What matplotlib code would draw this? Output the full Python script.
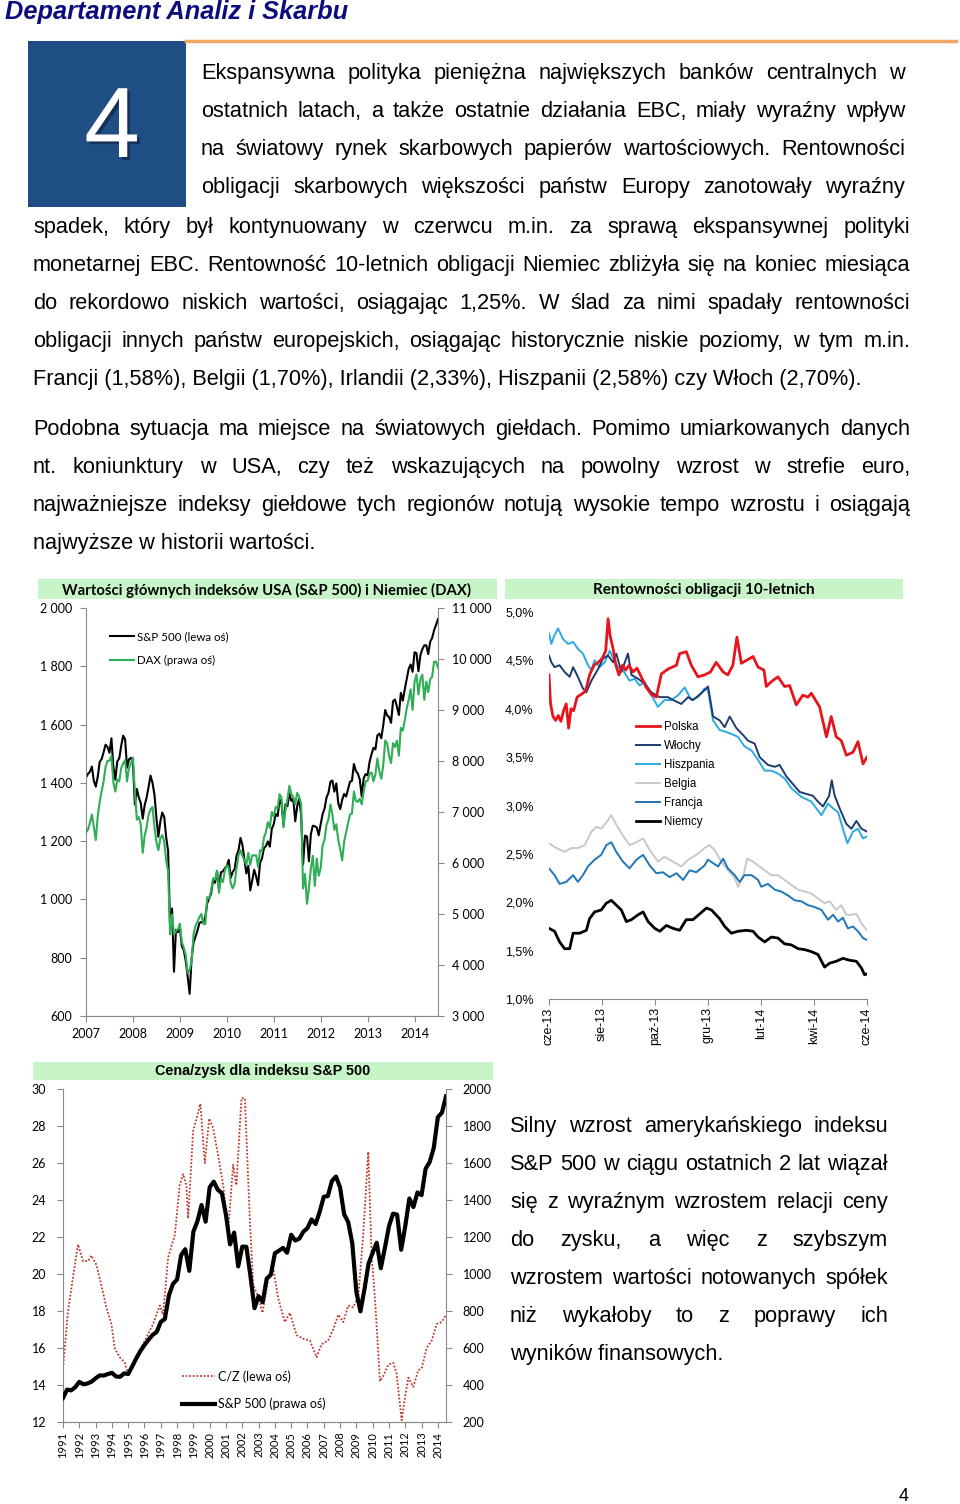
import matplotlib
matplotlib.use('Agg')
import matplotlib.pyplot as plt
import matplotlib.patheffects as pe
import numpy as np
from matplotlib.patches import Rectangle

# ---------------- data ----------------
# S&P 500 and DAX, half-monthly from Jan 2007 to Jun 2014
sp_values = [1418,
    1431, 1438, 1456, 1407, 1387, 1421, 1472, 1482, 1505, 1531, 1523, 1503, 1553, 1455, 1411, 1474, 1484, 1527, 1562, 1549, 1452, 1481, 1486, 1468,
    1325, 1379, 1350, 1331, 1277, 1323, 1350, 1386, 1425, 1400, 1360, 1280, 1215, 1267, 1298, 1283, 1213, 1166, 907, 969, 752, 896, 888, 903,
    840, 826, 789, 735, 676, 798, 852, 873, 893, 919, 923, 919, 940, 987, 1004, 1021, 1068, 1057, 1097, 1036, 1093, 1096, 1107, 1115,
    1136, 1074, 1094, 1104, 1150, 1169, 1211, 1187, 1136, 1089, 1115, 1031, 1065, 1102, 1079, 1049, 1125, 1141, 1176, 1183, 1199, 1181, 1242, 1258,
    1293, 1286, 1343, 1327, 1256, 1326, 1320, 1364, 1338, 1345, 1268, 1321, 1344, 1292, 1120, 1219, 1216, 1131, 1225, 1253, 1251, 1247, 1220, 1258,
    1293, 1312, 1350, 1366, 1404, 1408, 1370, 1398, 1330, 1310, 1342, 1362, 1353, 1379, 1404, 1407, 1465, 1441, 1432, 1412, 1353, 1416, 1430, 1426,
    1472, 1498, 1520, 1515, 1563, 1569, 1553, 1598, 1650, 1631, 1626, 1606, 1680, 1686, 1661, 1633, 1709, 1682, 1721, 1757, 1791, 1806, 1781, 1848,
    1845, 1783, 1838, 1859, 1872, 1872, 1842, 1884, 1897, 1924, 1942, 1962]
dax_values = [6600,
    6650, 6789, 6950, 6716, 6450, 6917, 7200, 7409, 7600, 7883, 8000, 8007, 8100, 7584, 7400, 7638, 7600, 7862, 7950, 8019, 7600, 7871, 7950, 8067,
    7400, 6851, 6900, 6748, 6200, 6535, 6700, 6949, 7050, 7097, 6700, 6418, 6250, 6479, 6550, 6422, 6050, 5831, 4600, 4988, 4600, 4669, 4700, 4810,
    4450, 4338, 4200, 3844, 3900, 4085, 4600, 4770, 4850, 4941, 5000, 4809, 4800, 5332, 5300, 5465, 5700, 5675, 5850, 5415, 5700, 5625, 5850, 5957,
    5900, 5608, 5500, 5598, 5900, 6154, 6250, 6136, 6050, 5965, 6200, 5966, 6150, 6148, 6150, 5925, 6250, 6229, 6500, 6601, 6800, 6688, 7000, 6914,
    7100, 7077, 7350, 7273, 6700, 7041, 7250, 7514, 7350, 7294, 7150, 7376, 7300, 7159, 5500, 5785, 5200, 5502, 5900, 6141, 5550, 6089, 5750, 5898,
    6350, 6458, 6750, 6856, 7150, 6947, 6650, 6761, 6450, 6264, 6050, 6416, 6600, 6772, 6950, 6971, 7400, 7216, 7200, 7260, 7150, 7406, 7600, 7612,
    7750, 7776, 7600, 7742, 8050, 7795, 7650, 7914, 8400, 8349, 8100, 7959, 8350, 8276, 8400, 8104, 8650, 8594, 8800, 9033, 9200, 9406, 9000, 9552,
    9700, 9306, 9600, 9692, 9200, 9556, 9350, 9603, 9650, 9943, 9950, 9833]
idx_years = ['2007', '2008', '2009', '2010', '2011', '2012', '2013', '2014']
sp_ticks = ['600', '800', '1 000', '1 200', '1 400', '1 600', '1 800', '2 000']
dax_ticks = ['3 000', '4 000', '5 000', '6 000', '7 000', '8 000', '9 000', '10 000', '11 000']

# 10Y bond yields, x = months since June 2013
pl_m = [0.00, 0.06, 0.15, 0.25, 0.35, 0.45, 0.55, 0.65, 0.74, 0.83, 0.93, 1.06, 1.22, 1.38, 1.53, 1.70, 1.86, 2.01, 2.14, 2.23,
        2.31, 2.42, 2.52, 2.64, 2.77, 2.89, 3.02, 3.17, 3.32, 3.48, 3.67, 3.86, 4.05, 4.24, 4.49, 4.81, 4.93, 5.18, 5.37, 5.62,
        5.87, 6.09, 6.31, 6.57, 6.75, 6.94, 7.09, 7.26, 7.45, 7.70, 7.89, 8.11, 8.20, 8.39, 8.64, 8.89, 9.08, 9.33, 9.58, 9.77,
        9.90, 10.21, 10.47, 10.65, 10.84, 11.03, 11.22, 11.47, 11.66, 11.85, 12.00]
pl_v = [4.35, 4.05, 3.92, 3.88, 3.93, 3.87, 3.98, 4.05, 3.80, 4.00, 3.98, 4.12, 4.15, 4.18, 4.35, 4.45, 4.48, 4.52, 4.60, 4.93,
        4.75, 4.62, 4.45, 4.35, 4.45, 4.40, 4.45, 4.38, 4.42, 4.33, 4.22, 4.15, 4.12, 4.36, 4.41, 4.45, 4.57, 4.59, 4.45, 4.33,
        4.35, 4.38, 4.48, 4.38, 4.35, 4.45, 4.74, 4.47, 4.50, 4.54, 4.43, 4.40, 4.23, 4.28, 4.33, 4.23, 4.24, 4.04, 4.14, 4.12,
        4.16, 4.02, 3.71, 3.92, 3.71, 3.67, 3.52, 3.55, 3.66, 3.43, 3.50]
it_m = [0.00, 0.09, 0.21, 0.40, 0.59, 0.78, 0.91, 1.09, 1.28, 1.41, 1.60, 1.85, 2.04, 2.23, 2.42, 2.54, 2.73, 2.98, 3.11, 3.36,
        3.61, 3.86, 4.18, 4.49, 4.68, 4.99, 5.25, 5.43, 5.75, 6.00, 6.09, 6.19, 6.44, 6.63, 6.82, 7.07, 7.32, 7.51, 7.76, 7.95,
        8.26, 8.52, 8.70, 8.96, 9.21, 9.46, 9.71, 9.96, 10.15, 10.34, 10.57, 10.67, 10.78, 10.97, 11.22, 11.41, 11.60, 11.79, 12.00]
it_v = [4.55, 4.48, 4.43, 4.45, 4.38, 4.33, 4.43, 4.33, 4.21, 4.17, 4.29, 4.41, 4.52, 4.55, 4.48, 4.57, 4.38, 4.57, 4.35, 4.31,
        4.26, 4.17, 4.12, 4.12, 4.09, 4.05, 4.12, 4.09, 4.16, 4.23, 4.09, 3.92, 3.88, 3.81, 3.92, 3.80, 3.73, 3.67, 3.64, 3.50,
        3.42, 3.40, 3.42, 3.30, 3.22, 3.14, 3.12, 3.10, 3.04, 2.99, 3.10, 3.26, 3.10, 2.97, 2.81, 2.76, 2.84, 2.76, 2.73]
es_m = [0.00, 0.09, 0.19, 0.34, 0.53, 0.72, 0.91, 1.09, 1.28, 1.47, 1.60, 1.72, 1.91, 2.10, 2.29, 2.42, 2.60, 2.79, 3.04, 3.23,
        3.42, 3.61, 3.86, 4.11, 4.36, 4.62, 4.87, 5.12, 5.37, 5.62, 5.87, 6.00, 6.19, 6.44, 6.69, 6.88, 7.13, 7.38, 7.64, 7.89,
        8.14, 8.39, 8.64, 8.89, 9.14, 9.52, 9.90, 10.28, 10.53, 10.72, 10.91, 11.09, 11.26, 11.47, 11.66, 11.85, 12.00]
es_v = [4.78, 4.67, 4.75, 4.83, 4.72, 4.67, 4.69, 4.62, 4.57, 4.45, 4.40, 4.50, 4.43, 4.48, 4.60, 4.52, 4.43, 4.40, 4.29, 4.31,
        4.24, 4.28, 4.14, 4.02, 4.09, 4.09, 4.14, 4.22, 4.09, 4.12, 4.21, 4.19, 3.88, 3.78, 3.76, 3.74, 3.71, 3.61, 3.57, 3.47,
        3.36, 3.36, 3.33, 3.28, 3.18, 3.09, 3.04, 2.90, 3.02, 2.97, 2.93, 2.76, 2.61, 2.73, 2.76, 2.66, 2.68]
be_m = [0.00, 0.21, 0.59, 0.84, 1.09, 1.35, 1.60, 1.79, 1.97, 2.23, 2.35, 2.54, 2.79, 3.04, 3.30, 3.55, 3.80, 4.11, 4.36, 4.68,
        4.99, 5.25, 5.56, 5.87, 6.06, 6.25, 6.50, 6.75, 7.01, 7.13, 7.32, 7.48, 7.70, 7.89, 8.14, 8.39, 8.64, 8.89, 9.14, 9.40,
        9.65, 9.90, 10.15, 10.40, 10.59, 10.84, 11.03, 11.22, 11.41, 11.60, 11.79, 12.00]
be_v = [2.61, 2.57, 2.52, 2.56, 2.56, 2.59, 2.73, 2.78, 2.76, 2.85, 2.90, 2.80, 2.69, 2.59, 2.62, 2.66, 2.54, 2.42, 2.47, 2.42,
        2.37, 2.44, 2.49, 2.56, 2.59, 2.54, 2.42, 2.33, 2.25, 2.16, 2.26, 2.45, 2.42, 2.38, 2.33, 2.28, 2.28, 2.23, 2.18, 2.13,
        2.11, 2.09, 2.04, 1.99, 2.01, 1.92, 1.97, 1.87, 1.87, 1.88, 1.78, 1.71]
fr_m = [0.00, 0.21, 0.40, 0.65, 0.91, 1.09, 1.28, 1.47, 1.72, 1.97, 2.16, 2.35, 2.54, 2.79, 3.04, 3.30, 3.55, 3.80, 4.05, 4.30,
        4.55, 4.81, 5.06, 5.31, 5.56, 5.87, 6.00, 6.38, 6.57, 6.75, 7.01, 7.19, 7.38, 7.64, 7.89, 8.01, 8.26, 8.52, 8.77, 9.02,
        9.27, 9.52, 9.77, 10.03, 10.28, 10.53, 10.72, 10.91, 11.09, 11.28, 11.47, 11.66, 11.85, 12.00]
fr_v = [2.35, 2.28, 2.19, 2.21, 2.28, 2.21, 2.28, 2.37, 2.44, 2.49, 2.59, 2.62, 2.52, 2.42, 2.35, 2.44, 2.49, 2.38, 2.30, 2.31,
        2.26, 2.30, 2.23, 2.33, 2.31, 2.38, 2.44, 2.37, 2.45, 2.35, 2.28, 2.21, 2.28, 2.28, 2.23, 2.16, 2.19, 2.13, 2.11, 2.07,
        2.02, 2.01, 1.97, 1.95, 1.92, 1.82, 1.87, 1.80, 1.84, 1.73, 1.75, 1.70, 1.63, 1.61]
de_m = [0.00, 0.21, 0.40, 0.59, 0.78, 0.91, 1.16, 1.41, 1.53, 1.72, 1.97, 2.16, 2.35, 2.54, 2.73, 2.92, 3.11, 3.36, 3.55, 3.74,
        3.99, 4.18, 4.43, 4.68, 4.93, 5.18, 5.43, 5.69, 5.94, 6.13, 6.44, 6.63, 6.88, 7.13, 7.45, 7.70, 7.89, 8.14, 8.39, 8.64,
        8.89, 9.14, 9.40, 9.65, 9.90, 10.15, 10.40, 10.59, 10.84, 11.09, 11.35, 11.60, 11.79, 11.91, 12.00]
de_v = [1.73, 1.70, 1.59, 1.52, 1.52, 1.68, 1.68, 1.71, 1.83, 1.90, 1.92, 1.99, 2.02, 1.97, 1.92, 1.80, 1.82, 1.87, 1.90, 1.80,
        1.73, 1.70, 1.76, 1.73, 1.71, 1.82, 1.82, 1.88, 1.94, 1.92, 1.83, 1.75, 1.68, 1.70, 1.71, 1.70, 1.64, 1.59, 1.64, 1.63,
        1.57, 1.56, 1.52, 1.51, 1.49, 1.46, 1.33, 1.37, 1.39, 1.42, 1.40, 1.39, 1.32, 1.25, 1.26]
bond_months = ['cze-13', 'sie-13', 'paź-13', 'gru-13', 'lut-14', 'kwi-14', 'cze-14']
bond_yticks = ['1,0%', '1,5%', '2,0%', '2,5%', '3,0%', '3,5%', '4,0%', '4,5%', '5,0%']

# P/E of S&P 500 and quarterly S&P 500 (from end of 1990)
pe_years = [1991.00, 1991.31, 1991.61, 1991.92, 1992.23, 1992.54, 1992.74, 1993.05, 1993.35, 1993.66, 1993.97, 1994.17,
            1994.48, 1994.79, 1994.99, 1995.50, 1996.02, 1996.53, 1996.94, 1997.14, 1997.45, 1997.86, 1998.16, 1998.37,
            1998.57, 1998.68, 1998.98, 1999.19, 1999.43, 1999.70, 1999.97, 2000.21, 2000.52, 2000.83, 2001.13, 2001.44,
            2001.64, 2001.95, 2002.16, 2002.46, 2002.67, 2002.87, 2003.04, 2003.24, 2003.59, 2003.90, 2004.20, 2004.61,
            2004.92, 2005.33, 2005.74, 2006.15, 2006.56, 2006.86, 2007.27, 2007.58, 2007.89, 2008.20, 2008.50, 2008.81,
            2009.12, 2009.42, 2009.73, 2009.94, 2010.14, 2010.45, 2010.65, 2010.96, 2011.27, 2011.47, 2011.78, 2011.98,
            2012.19, 2012.49, 2012.80, 2013.01, 2013.31, 2013.62, 2013.93, 2014.23, 2014.50]
pe_values = [14.9, 18.0, 19.8, 21.6, 20.7, 20.7, 21.0, 20.5, 19.4, 18.2, 17.3, 16.0,
             15.5, 15.2, 14.6, 15.5, 16.4, 17.3, 18.3, 17.8, 20.9, 22.1, 24.8, 25.4,
             24.8, 23.0, 27.7, 28.4, 29.2, 26.0, 28.4, 27.9, 26.4, 24.8, 22.3, 25.9,
             24.8, 29.5, 29.5, 23.0, 19.4, 19.0, 18.6, 17.9, 19.7, 20.3, 18.7, 17.4,
             17.9, 16.7, 16.5, 16.4, 15.5, 16.2, 16.4, 17.0, 17.8, 17.4, 18.3, 18.2,
             18.8, 22.1, 26.6, 20.9, 18.7, 14.2, 14.5, 15.1, 15.2, 14.6, 12.1, 13.3,
             14.4, 13.9, 14.8, 14.9, 16.0, 16.4, 17.3, 17.4, 17.8]
spq_values = [330, 375, 371, 388, 417, 404, 408, 418, 436, 452, 451, 459, 466, 446, 444, 463, 459,
              501, 545, 584, 616, 645, 671, 687, 741, 757, 885, 947, 970, 1102, 1134, 1017, 1229,
              1286, 1373, 1283, 1469, 1499, 1455, 1437, 1320, 1160, 1224, 1041, 1148, 1147, 990, 815, 880,
              848, 975, 996, 1112, 1126, 1141, 1115, 1212, 1181, 1191, 1229, 1248, 1295, 1270, 1336, 1418,
              1421, 1503, 1527, 1468, 1323, 1280, 1166, 903, 798, 919, 1057, 1115, 1169, 1031, 1141, 1258,
              1326, 1321, 1131, 1258, 1408, 1362, 1441, 1426, 1569, 1606, 1682, 1848, 1872, 1960]
pe_year_labels = [str(y) for y in range(1991, 2015)]

# page text
para1 = [
    "Ekspansywna polityka pieniężna największych banków centralnych w",
    "ostatnich latach, a także ostatnie działania EBC, miały wyraźny wpływ",
    "na światowy rynek skarbowych papierów wartościowych. Rentowności",
    "obligacji skarbowych większości państw Europy zanotowały wyraźny",
    "spadek, który był kontynuowany w czerwcu m.in. za sprawą ekspansywnej polityki",
    "monetarnej EBC. Rentowność 10-letnich obligacji Niemiec zbliżyła się na koniec miesiąca",
    "do rekordowo niskich wartości, osiągając 1,25%. W ślad za nimi spadały rentowności",
    "obligacji innych państw europejskich, osiągając historycznie niskie poziomy, w tym m.in.",
    "Francji (1,58%), Belgii (1,70%), Irlandii (2,33%), Hiszpanii (2,58%) czy Włoch (2,70%).",
]
para2 = [
    "Podobna sytuacja ma miejsce na światowych giełdach. Pomimo umiarkowanych danych",
    "nt. koniunktury w USA, czy też wskazujących na powolny wzrost w strefie euro,",
    "najważniejsze indeksy giełdowe tych regionów notują wysokie tempo wzrostu i osiągają",
    "najwyższe w historii wartości.",
]
para3 = [
    "Silny wzrost amerykańskiego indeksu",
    "S&P 500 w ciągu ostatnich 2 lat wiązał",
    "się z wyraźnym wzrostem relacji ceny",
    "do zysku, a więc z szybszym",
    "wzrostem wartości notowanych spółek",
    "niż wykałoby to z poprawy ich",
    "wyników finansowych.",
]

# ---------------- page ----------------
W, H = 960, 1504
fig = plt.figure(figsize=(9.6, 15.04), dpi=100)
fig.patch.set_facecolor('white')
renderer = fig.canvas.get_renderer()

BODY = 'Liberation Sans'
CAL = 'Lato'
GRAY = '#8a8a8a'
BAND = '#c8f5c8'
FS = 15.7


def fx(px):
    return px / W


def fy(py):
    return 1 - py / H


def rect(x0, y0, x1, y1):
    return [fx(x0), fy(y1), (x1 - x0) / W, (y1 - y0) / H]


def band(x0, y0, x1, y1, color):
    fig.add_artist(Rectangle((fx(x0), fy(y1)), (x1 - x0) / W, (y1 - y0) / H,
                             transform=fig.transFigure, facecolor=color, edgecolor='none'))


def justify(line, x0, x1, y, size=FS):
    words = line.split(' ')
    texts = [fig.text(0, fy(y), w, va='baseline', ha='left', fontsize=size, family=BODY) for w in words]
    widths = [t.get_window_extent(renderer).width for t in texts]
    gap = (x1 - x0 - sum(widths)) / max(len(words) - 1, 1)
    x = x0
    for t, w in zip(texts, widths):
        t.set_x(fx(x))
        x += w + gap


# header
fig.text(fx(5), fy(19), 'Departament Analiz i Skarbu', fontsize=18.3, family=BODY,
         weight='bold', style='italic', color='#0c0c7c', va='baseline')
fig.add_artist(plt.Line2D([fx(186), fx(956)], [fy(41), fy(41)], transform=fig.transFigure,
                          color='#f0a868', lw=2.5))
band(28, 41, 186, 207, '#1f4e85')
fig.text(fx(112), fy(131), '4', fontsize=72, family=BODY, color='white',
         ha='center', va='center',
         path_effects=[pe.withSimplePatchShadow(offset=(2, -2), shadow_rgbFace='#0a1e3c', alpha=0.6)])

# paragraph 1
ys = [79, 117, 155, 193, 233, 271, 309, 347]
for i, line in enumerate(para1[:8]):
    x0 = 201 if i < 4 else 33
    x1 = 905 if i < 4 else 910
    justify(line, x0, x1, ys[i])
fig.text(fx(33), fy(385), para1[8], fontsize=FS, family=BODY, va='baseline')

# paragraph 2
for i, line in enumerate(para2[:3]):
    justify(line, 33, 910, 435 + 38 * i)
fig.text(fx(33), fy(549), para2[3], fontsize=FS, family=BODY, va='baseline')

# paragraph 3 (right of P/E chart)
for i, line in enumerate(para3[:6]):
    justify(line, 510, 888, 1132 + 38 * i)
fig.text(fx(510), fy(1360), para3[6], fontsize=FS, family=BODY, va='baseline')

fig.text(fx(904), fy(1501), '4', fontsize=13, family=BODY, ha='center', va='baseline')

# ---------------- chart 1: S&P 500 and DAX ----------------
band(38, 579, 497, 599, BAND)
fig.text(fx(267), fy(590), 'Wartości głównych indeksów USA (S&P 500) i Niemiec (DAX)',
         fontsize=10.7, family=CAL, weight='bold', ha='center', va='center')

ax1 = fig.add_axes(rect(86, 608, 438, 1016))
sp_x = 2007 + np.arange(len(sp_values)) / 24
ax1.plot(sp_x, sp_values, color='black', lw=1.5, label='S&P 500 (lewa oś)')
ax1.set_xlim(2007, 2014.5)
ax1.set_ylim(600, 2000)
ax1.set_yticks(range(600, 2001, 200))
ax1.set_yticklabels(sp_ticks)
ax1.set_xticks(range(2007, 2015))
ax1.set_xticklabels(idx_years)
ax1b = ax1.twinx()
ax1b.plot(sp_x, dax_values, color='#2eae55', lw=1.5, label='DAX (prawa oś)')
ax1b.set_ylim(3000, 11000)
ax1b.set_yticks(range(3000, 11001, 1000))
ax1b.set_yticklabels(dax_ticks)
for a in (ax1, ax1b):
    a.set_facecolor('none')
    a.spines['top'].set_visible(False)
    for s in ('left', 'right', 'bottom'):
        a.spines[s].set_color(GRAY)
    a.tick_params(direction='out', length=4, color=GRAY, labelsize=9, pad=6)
    for lab in a.get_xticklabels() + a.get_yticklabels():
        lab.set_family(CAL)
ax1.spines['right'].set_visible(False)
ax1b.spines['left'].set_visible(False)
ax1.tick_params(axis='x', pad=5)
h1, l1 = ax1.get_legend_handles_labels()
h2, l2 = ax1b.get_legend_handles_labels()
ax1b.legend(h1 + h2, l1 + l2, loc='upper left', bbox_to_anchor=(fx(110), fy(631)),
            bbox_transform=fig.transFigure, frameon=False,
            prop={'family': CAL, 'size': 8.3}, handlelength=2.1, handletextpad=0.25,
            labelspacing=1.15, borderpad=0, borderaxespad=0)

# ---------------- chart 2: bond yields ----------------
band(505, 579, 903, 599, BAND)
fig.text(fx(704), fy(590), 'Rentowności obligacji 10-letnich',
         fontsize=11, family=CAL, weight='bold', ha='center', va='center')

ax2 = fig.add_axes(rect(549, 612, 867, 999))
ax2.plot(be_m, be_v, color='#c8c8c8', lw=1.4, label='Belgia')
ax2.plot(fr_m, fr_v, color='#1f76b8', lw=1.4, label='Francja')
ax2.plot(de_m, de_v, color='black', lw=2.0, label='Niemcy')
ax2.plot(es_m, es_v, color='#2aaae2', lw=1.4, label='Hiszpania')
ax2.plot(it_m, it_v, color='#1f3b70', lw=1.4, label='Włochy')
ax2.plot(pl_m, pl_v, color='#e8141c', lw=2.0, label='Polska')
ax2.set_xlim(0, 12)
ax2.set_ylim(1.0, 5.0)
ax2.set_yticks(np.arange(1.0, 5.01, 0.5))
ax2.set_yticklabels(bond_yticks)
ax2.set_xticks(range(0, 13, 2))
ax2.set_xticklabels(bond_months, rotation=90)
for s in ('top', 'right', 'left'):
    ax2.spines[s].set_visible(False)
ax2.spines['bottom'].set_color(GRAY)
ax2.tick_params(axis='y', length=0, labelsize=9, pad=11)
ax2.tick_params(axis='x', direction='out', length=4, color=GRAY, labelsize=9, pad=2)
for lab in ax2.get_xticklabels() + ax2.get_yticklabels():
    lab.set_family(BODY)
hs, ls = ax2.get_legend_handles_labels()
order = ['Polska', 'Włochy', 'Hiszpania', 'Belgia', 'Francja', 'Niemcy']
hmap = dict(zip(ls, hs))
ax2.legend([hmap[k] for k in order], order, loc='upper left', bbox_to_anchor=(fx(636), fy(721)),
           bbox_transform=fig.transFigure, frameon=False, prop={'family': BODY, 'size': 8.3},
           handlelength=2.1, handletextpad=0.3, labelspacing=0.6, borderpad=0, borderaxespad=0)

# ---------------- chart 3: P/E ----------------
band(33, 1062, 493, 1080, BAND)
fig.text(fx(263), fy(1071), 'Cena/zysk dla indeksu S&P 500',
         fontsize=10.4, family=BODY, weight='bold', ha='center', va='center')

ax3 = fig.add_axes(rect(63, 1089, 446, 1422))
ax3.plot(pe_years, pe_values, color='#c0392b', lw=1.3, linestyle=(0, (1, 1)), label='C/Z (lewa oś)')
ax3.set_xlim(1991, 2014.5)
ax3.set_ylim(12, 30)
ax3.set_yticks(range(12, 31, 2))
ax3.set_xticks(range(1991, 2015))
ax3.set_xticklabels(pe_year_labels, rotation=90)
ax3b = ax3.twinx()
spq_x = 1991 + np.arange(len(spq_values)) / 4
ax3b.plot(spq_x, spq_values, color='black', lw=3.0, label='S&P 500 (prawa oś)')
ax3b.set_ylim(200, 2000)
ax3b.set_yticks(range(200, 2001, 200))
for a in (ax3, ax3b):
    a.set_facecolor('none')
    a.spines['top'].set_visible(False)
    for s in ('left', 'right', 'bottom'):
        a.spines[s].set_color(GRAY)
    a.tick_params(direction='out', length=4, color=GRAY, labelsize=9, pad=8)
    for lab in a.get_xticklabels() + a.get_yticklabels():
        lab.set_family(CAL)
ax3.tick_params(axis='x', labelsize=8, pad=3)
ax3.spines['right'].set_visible(False)
ax3b.spines['left'].set_visible(False)
h1, l1 = ax3.get_legend_handles_labels()
h2, l2 = ax3b.get_legend_handles_labels()
ax3b.legend(h1 + h2, l1 + l2, loc='upper left', bbox_to_anchor=(fx(182), fy(1370)),
            bbox_transform=fig.transFigure, frameon=False, prop={'family': CAL, 'size': 9},
            handlelength=2.6, handletextpad=0.25, labelspacing=1.2, borderpad=0, borderaxespad=0)

fig.savefig('out.png', dpi=100)
